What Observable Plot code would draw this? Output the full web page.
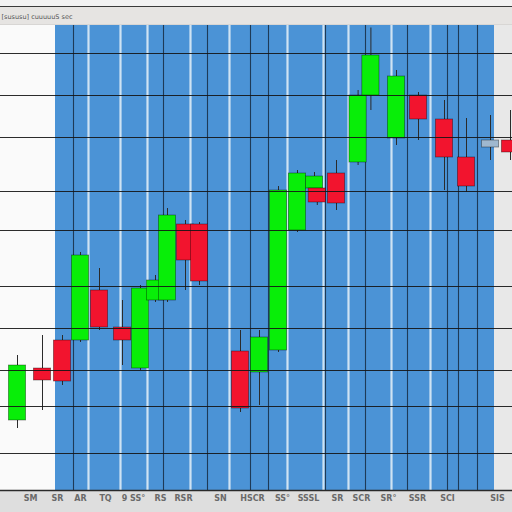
<!DOCTYPE html>
<html><head><meta charset="utf-8">
<script src="https://cdn.jsdelivr.net/npm/d3@7"></script>
<script src="https://cdn.jsdelivr.net/npm/@observablehq/plot@0.6"></script>
<style>html,body{margin:0;padding:0;background:#f8f8f8;overflow:hidden}</style>
</head><body><div id="chart"></div>
<script>
// session index (x units) and price (y units)
const t     = [4.25, 10.5, 15.5, 20, 24.75, 30.5, 35, 38.75, 41.75, 46.25, 49.75, 60, 64.75, 69.5, 74.25, 78.5, 79.2, 84, 89.4, 92.6, 99, 104.5, 111, 116.5, 122.5, 127.5];
const open  = [114, 124.4, 130, 130, 140, 132.6, 124.4, 138, 138, 153.2, 153.2, 127.8, 123.6, 128, 152, 160.4, 160.4, 163.4, 165.6, 179, 170.4, 179, 174.2, 166.6, 168.6, 170];
const close = [125, 122, 121.8, 147, 132.6, 130, 140.4, 142, 155, 146, 141.8, 116.4, 130.6, 160, 163.4, 162.8, 157.6, 157.4, 179, 187, 182.8, 174.2, 166.6, 160.8, 170, 167.6];
const high  = [127, 131, 131, 147.6, 144.4, 138, 141, 143, 156.4, 154, 153.6, 132, 132, 160.8, 164, 163.6, 160.4, 166, 180, 192.5, 184, 179.6, 178, 174.4, 175, 176];
const low   = [112.4, 116, 121, 129.6, 132, 125, 124, 137.6, 137.6, 140, 141, 115.6, 117, 127.6, 151.6, 160, 157, 156, 165, 176, 169, 170, 160, 159.6, 166, 166];

const session = [13.75, 123.5];          // highlighted session span
const priceGrid = [187.4, 179, 170.6, 159.8, 152, 140.8, 132.4, 124, 116.8, 107.4];
const darkGrid  = [18.25, 40.75, 51.75, 62.5, 67, 81.25, 91.25, 101.75, 111.75, 114.5, 119.25];
const lightGrid = [22, 30, 36.75, 47.5, 57.25, 71.75, 80.75, 87, 97.75, 107.5];
const tickPos    = [7.5, 14.25, 20, 26.25, 33.25, 40, 45.75, 55, 63, 70.5, 77, 84.25, 90.25, 97, 104.25, 111.75, 124.25];
const tickLabels = ["SM", "SR", "AR", "TQ", "9 SS°", "RS", "RSR", "SN", "HSCR", "SS°", "SSSL", "SR", "SCR", "SR°", "SSR", "SCI", "SIS"];
const headerText = "[sususu] cuuuuuS sec";

const candles = t.map((d, i) => ({t: d, open: open[i], close: close[i], high: high[i], low: low[i]}));
const labelMap = new Map(tickPos.map((d, i) => [d, tickLabels[i]]));
const W = 4.3;
const colorOf = d => Math.abs(d.close - d.open) < 1.5 ? "#9fb8cf" : (d.close > d.open ? "#08ee08" : "#f2142e");

const chart = Plot.plot({
  width: 512, height: 512,
  marginTop: 25, marginBottom: 22, marginLeft: 0, marginRight: 0,
  x: {domain: [0, 128], axis: null, label: null},
  y: {domain: [100, 193], axis: null, label: null},
  color: {type: "identity"},
  style: {
    background: "linear-gradient(to bottom, #f2f2f2 0px, #f2f2f2 6px, #3a3a3a 6px, #3a3a3a 7.5px, #e6e4e2 7.5px, #e6e4e2 24px, #d8d6d4 24px, #d8d6d4 25px, #fafafa 25px, #fafafa 490px, #dedede 490px, #dedede 512px)",
    fontFamily: "DejaVu Sans"
  },
  marks: [
    Plot.rect([session], {x1: d => d[0], x2: d => d[1], y1: 100, y2: 193, fill: "#4b93d6"}),
    Plot.rect([session], {x1: d => d[1], x2: 128, y1: 100, y2: 193, fill: "#e8e8e8"}),
    Plot.ruleX(lightGrid, {stroke: "#cfe3f3", strokeWidth: 2.2}),
    Plot.ruleX(darkGrid, {stroke: "#1e3a57", strokeWidth: 1.1}),
    Plot.ruleX(candles, {x: "t", y1: "low", y2: "high", stroke: "#2b2b2b", strokeWidth: 1}),
    Plot.rect(candles, {x1: d => d.t - W / 2, x2: d => d.t + W / 2, y1: "open", y2: "close",
      fill: colorOf, stroke: "#00000070", strokeWidth: 0.8}),
    Plot.ruleY(priceGrid, {stroke: "#151515", strokeWidth: 1.2, strokeOpacity: 0.9}),
    Plot.ruleY([100], {stroke: "#2a2a2a", strokeWidth: 1.5}),
    Plot.axisX(tickPos, {tickSize: 0, tickPadding: 5, fontSize: 8, fill: "#6a6a6a", fontWeight: "bold",
      label: null, tickFormat: d => labelMap.get(d)}),
    Plot.text([headerText], {frameAnchor: "top-left", lineAnchor: "middle", dy: -9, dx: 1, fontSize: 6.5, fill: "#555"})
  ]
});
document.getElementById("chart").append(chart);
</script>
</body></html>
